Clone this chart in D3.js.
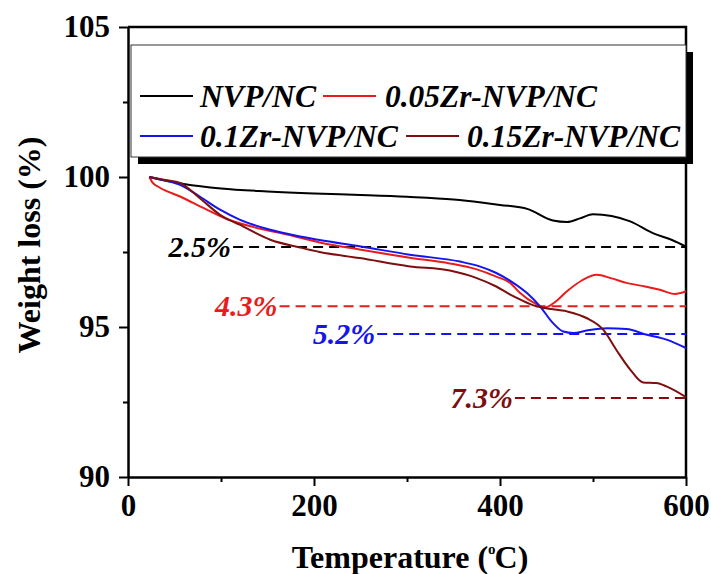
<!DOCTYPE html>
<html>
<head>
<meta charset="utf-8">
<script src="https://cdn.jsdelivr.net/npm/d3@7"></script>
<style>
  body { margin: 0; background: #fff; }
  svg { font-family: "Liberation Serif", "Times New Roman", serif; }
</style>
</head>
<body>
<div id="chart"></div>
<script>
// series names and colours
const seriesNames  = ["NVP/NC", "0.05Zr-NVP/NC", "0.1Zr-NVP/NC", "0.15Zr-NVP/NC"];
const seriesColors = ["#000000", "#e81c1c", "#1414f0", "#7d0f0f"];

// TGA curves (temperature °C, weight %)
const tNVP = [23, 40, 60, 100, 150, 200, 250, 300, 350, 380, 400, 430, 457, 472, 486, 500, 520, 540, 565, 585, 600];
const wNVP = [100, 99.88, 99.77, 99.62, 99.52, 99.45, 99.40, 99.34, 99.25, 99.15, 99.07, 98.93, 98.55, 98.5, 98.62, 98.76, 98.7, 98.52, 98.12, 97.9, 97.68];

const tZr05 = [23, 26, 34, 56, 81, 106, 135, 171, 206, 249, 303, 346, 375, 396, 411, 421, 439, 448, 460, 472, 488, 504, 520, 536, 556, 572, 588, 600];
const wZr05 = [100, 99.83, 99.65, 99.35, 98.97, 98.6, 98.33, 98.08, 97.82, 97.58, 97.31, 97.12, 96.92, 96.68, 96.47, 96.15, 95.76, 95.65, 95.85, 96.19, 96.55, 96.74, 96.62, 96.47, 96.35, 96.24, 96.1, 96.19];

const tZr10 = [23, 40, 56, 77, 99, 120, 153, 181, 206, 249, 303, 357, 378, 396, 411, 429, 443, 457, 468, 479, 493, 515, 536, 558, 579, 600];
const wZr10 = [100, 99.88, 99.74, 99.35, 98.91, 98.58, 98.24, 98.04, 97.9, 97.69, 97.41, 97.18, 97.02, 96.8, 96.54, 96.13, 95.69, 95.13, 94.85, 94.8, 94.88, 94.96, 94.93, 94.74, 94.58, 94.3];

const tZr15 = [23, 40, 56, 77, 99, 120, 153, 185, 206, 249, 303, 346, 375, 396, 411, 418, 436, 448, 472, 493, 511, 525, 540, 554, 568, 579, 600];
const wZr15 = [100, 99.9, 99.8, 99.3, 98.74, 98.41, 97.91, 97.65, 97.5, 97.3, 97.02, 96.88, 96.63, 96.35, 96.08, 95.97, 95.72, 95.63, 95.52, 95.3, 94.91, 94.24, 93.58, 93.15, 93.13, 93.02, 92.66];

// dashed loss markers
const lossLabels = ["2.5%", "4.3%", "5.2%", "7.3%"];
const lossLevels = [97.67, 95.69, 94.77, 92.63];
const lossStart  = [113, 163, 268, 416];

const xTicks = [0, 200, 400, 600], xMinor = [100, 300, 500];
const yTicks = [90, 95, 100, 105], yMinor = [92.5, 97.5, 102.5];

const series = [
  { t: tNVP,  w: wNVP  },
  { t: tZr05, w: wZr05 },
  { t: tZr10, w: wZr10 },
  { t: tZr15, w: wZr15 }
].map((s, i) => ({
  name: seriesNames[i],
  color: seriesColors[i],
  values: s.t.map((t, j) => ({ t, w: s.w[j] }))
}));

const W = 711, H = 574;
const margin = { top: 27, right: 25, bottom: 97, left: 128 };
const width  = W - margin.left - margin.right,
      height = H - margin.top  - margin.bottom;

const svg = d3.select("#chart").append("svg")
    .attr("width", W)
    .attr("height", H);

const g = svg.append("g")
    .attr("transform", `translate(${margin.left},${margin.top})`);

const x = d3.scaleLinear().domain([0, 600]).range([0, width]);
const y = d3.scaleLinear().domain([90, 105]).range([height, 0]);

// minor ticks
g.append("g")
    .attr("transform", `translate(0,${height})`)
    .call(d3.axisBottom(x).tickValues(xMinor).tickSize(5).tickFormat(""))
    .call(a => a.select(".domain").remove())
    .selectAll("line").attr("stroke-width", 2);
g.append("g")
    .call(d3.axisLeft(y).tickValues(yMinor).tickSize(5).tickFormat(""))
    .call(a => a.select(".domain").remove())
    .selectAll("line").attr("stroke-width", 2);

// major axes
const xAxis = g.append("g")
    .attr("transform", `translate(0,${height})`)
    .call(d3.axisBottom(x).tickValues(xTicks).tickSize(9).tickPadding(8).tickSizeOuter(0));
const yAxis = g.append("g")
    .call(d3.axisLeft(y).tickValues(yTicks).tickSize(9).tickPadding(9).tickSizeOuter(0));

[xAxis, yAxis].forEach(a => {
  a.select(".domain").attr("stroke-width", 2.5);
  a.selectAll("line").attr("stroke-width", 2);
  a.selectAll("text")
      .attr("font-family", "Liberation Serif, serif")
      .attr("font-size", 31)
      .attr("font-weight", "bold")
      .attr("fill", "#000");
});

// top and right frame
g.append("path")
    .attr("d", `M0,0H${width}V${height}`)
    .attr("fill", "none")
    .attr("stroke", "#000")
    .attr("stroke-width", 2.5);

// dashed loss lines + labels
lossLevels.forEach((lv, i) => {
  g.append("line")
      .attr("x1", x(lossStart[i])).attr("x2", x(600))
      .attr("y1", y(lv)).attr("y2", y(lv))
      .attr("stroke", seriesColors[i])
      .attr("stroke-width", 2)
      .attr("stroke-dasharray", "10,6");
  g.append("text")
      .attr("x", x(lossStart[i]) - 2)
      .attr("y", y(lv) + 10)
      .attr("text-anchor", "end")
      .attr("font-size", 30)
      .attr("font-weight", "bold")
      .attr("font-style", "italic")
      .attr("fill", seriesColors[i])
      .text(lossLabels[i]);
});

// curves
const line = d3.line()
    .x(d => x(d.t))
    .y(d => y(d.w))
    .curve(d3.curveMonotoneX);

g.append("g").selectAll("path")
  .data(series)
  .join("path")
    .attr("d", d => line(d.values))
    .attr("fill", "none")
    .attr("stroke", d => d.color)
    .attr("stroke-width", 2);

// legend box with drop shadow
const lg = svg.append("g");
lg.append("rect")
    .attr("x", 138).attr("y", 52)
    .attr("width", 555).attr("height", 112)
    .attr("fill", "#000");
lg.append("rect")
    .attr("x", 131).attr("y", 45)
    .attr("width", 555).attr("height", 112)
    .attr("fill", "#fff")
    .attr("stroke", "#333")
    .attr("stroke-width", 1);

const legendPos = [
  { lx: 140, tx: 200, ty: 107, tw: 116 },
  { lx: 323, tx: 385, ty: 107, tw: 212 },
  { lx: 140, tx: 200, ty: 147, tw: 198 },
  { lx: 406, tx: 467, ty: 147, tw: 213 }
];
series.forEach((s, i) => {
  const p = legendPos[i];
  lg.append("line")
      .attr("x1", p.lx).attr("x2", p.lx + 53)
      .attr("y1", p.ty - 11).attr("y2", p.ty - 11)
      .attr("stroke", s.color)
      .attr("stroke-width", 2);
  lg.append("text")
      .attr("x", p.tx).attr("y", p.ty)
      .attr("font-size", 31)
      .attr("font-weight", "bold")
      .attr("font-style", "italic")
      .attr("textLength", p.tw)
      .attr("lengthAdjust", "spacingAndGlyphs")
      .text(s.name);
});

// axis titles
const xt = svg.append("text")
    .attr("x", 410).attr("y", 568)
    .attr("text-anchor", "middle")
    .attr("font-size", 32)
    .attr("font-weight", "bold");
xt.append("tspan").text("Temperature (");
xt.append("tspan").attr("font-size", 15).attr("dy", -14).text("o");
xt.append("tspan").attr("dx", -1).attr("dy", 14).text("C)");

svg.append("text")
    .attr("transform", "translate(40,245) rotate(-90)")
    .attr("text-anchor", "middle")
    .attr("font-size", 32)
    .attr("font-weight", "bold")
    .text("Weight loss (%)");
</script>
</body>
</html>
